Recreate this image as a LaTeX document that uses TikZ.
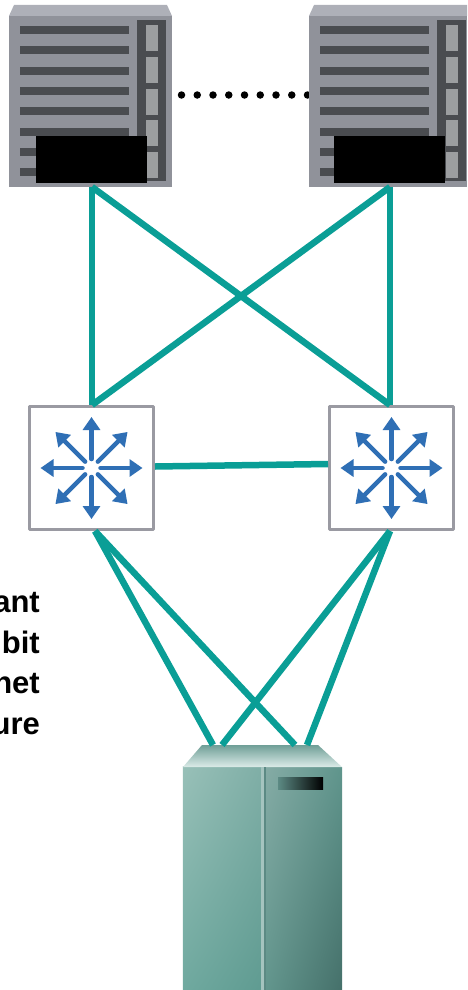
\documentclass[tikz,border=0pt]{standalone}
\usepackage{fontspec}
\setmainfont{Liberation Sans}
\usepackage{xcolor}
\usetikzlibrary{arrows.meta,calc,positioning,shadings}
\definecolor{linkteal}{HTML}{0A9E96}
\definecolor{rackgray}{HTML}{90929A}
\definecolor{rackroof}{HTML}{AEB0B8}
\definecolor{rackdark}{HTML}{4A4C50}
\definecolor{rackcell}{HTML}{9C9EA0}
\definecolor{swblue}{HTML}{2F6FB5}
\definecolor{swedge}{HTML}{9A9AA2}
\definecolor{storeA}{HTML}{98C0B8}
\definecolor{storeB}{HTML}{6FA99F}
\definecolor{storeC}{HTML}{7FAEA6}
\definecolor{storeD}{HTML}{5F9B91}
\definecolor{storeE}{HTML}{86ACA6}
\definecolor{storeF}{HTML}{5F958C}
\definecolor{storeG}{HTML}{63978E}
\definecolor{storeH}{HTML}{45706A}
\definecolor{storeroof}{HTML}{6F9F97}
\definecolor{storeedge}{HTML}{DCEBE8}
\definecolor{storeslit}{HTML}{A5C4BF}
\definecolor{storeshade}{HTML}{5C8A84}
\tikzset{
  link/.style={color=linkteal,line width=6.5pt,line cap=butt},
  rack/.style={fill=rackgray,inner sep=0pt,minimum height=171pt},
  swbox/.style={draw=swedge,line width=3.5pt,fill=white,inner sep=0pt,minimum width=124pt,minimum height=123pt},
  swarrow/.style={color=swblue,line width=4.5pt,-{Triangle[length=13pt,width=17pt]}},
  storebox/.style={inner sep=0pt,minimum width=159pt,minimum height=223pt},
  note/.style={font=\bfseries\fontsize{31}{40}\selectfont,inner sep=0pt,anchor=base east}
}
\begin{document}
\begin{tikzpicture}[line cap=round,line join=round,x=1pt,y=-1pt]
\useasboundingbox (0,0) rectangle (467,990);
%dots between the racks
\coordinate (dotL) at (181.5,95);
\coordinate (dotR) at (309,95);
\draw[line width=7.5pt,line cap=round,dash pattern=on 0pt off 15.75pt] (dotL) -- (dotR);
%racks
\node[rack,minimum width=163pt] (rackL) at (90.5,101.5) {};
\node[rack,minimum width=158pt] (rackR) at (388,101.5) {};
\fill[rackroof] (9,16) -- (14,5) -- (167,5) -- (172,16) -- cycle;
\fill[rackroof] (309,16) -- (314,5) -- (467,5) -- (467,16) -- cycle;
\foreach \dx/\bx in {0/36,300/334}{
  \begin{scope}[shift={(\dx,0)}]
  \foreach \y in {30,50,71,91,111,132,152,172}
    \fill[rackdark] (20,\y-4) rectangle (129,\y+4);
  \fill[rackdark] (137,20) rectangle (166,181);
  \foreach \y in {25,57,89,120,152}
    \fill[rackcell] (146,\y) rectangle (158,\y+26);
  \end{scope}
  \fill[black] (\bx,136) rectangle (\bx+111,183);
}
%switches
\node[swbox] (swL) at (91.5,468) {};
\node[swbox] (swR) at (391.5,468) {};
\foreach \sw in {swL,swR}
  \foreach \a in {0,45,...,315}
    \draw[swarrow] ($(\sw)+(\a:9)$) -- ($(\sw)+(\a:51)$);
%server
\node[storebox] (store) at (262.5,878.5) {};
\shade[upper left=storeA,lower left=storeB,upper right=storeC,lower right=storeD]
  (store.north west) rectangle (263,990);
\shade[upper left=storeE,lower left=storeG,upper right=storeF,lower right=storeH]
  (263,767) rectangle (store.south east);
\shade[top color=storeroof,bottom color=storeedge] (183,767) -- (202,745) -- (318,745) -- (342,767) -- cycle;
\fill[storeslit] (261,767) rectangle (264,990);
\fill[storeshade] (264,767) rectangle (265.5,990);
\shade[left color=storeshade,right color=black] (278,777) rectangle (323,789);
%links
\coordinate (portL) at (92,187);
\coordinate (portR) at (390,187);
\coordinate (swLup) at (92,405);
\coordinate (swRup) at (390,405);
\coordinate (swLside) at (155,466.5);
\coordinate (swRside) at (328,464);
\coordinate (swLdown) at (95,531);
\coordinate (swRdown) at (390,531);
\coordinate (endA) at (213,745);
\coordinate (endB) at (222,745);
\coordinate (endC) at (295,745);
\coordinate (endD) at (307,745);
\draw[link] (portL) -- (swLup);
\draw[link] (portL) -- (swRup);
\draw[link] (portR) -- (swLup);
\draw[link] (portR) -- (swRup);
\draw[link] (swLside) -- (swRside);
\draw[link] (swLdown) -- (endA);
\draw[link] (swLdown) -- (endC);
\draw[link] (swRdown) -- (endB);
\draw[link] (swRdown) -- (endD);
%label, cut by the page edge
\node[note] (noteA) at (40,612) {ant};
\node[note] (noteB) at (40,653) {bit};
\node[note] (noteC) at (40,693) {net};
\node[note] (noteD) at (40,734) {ure};
\end{tikzpicture}
\end{document}
